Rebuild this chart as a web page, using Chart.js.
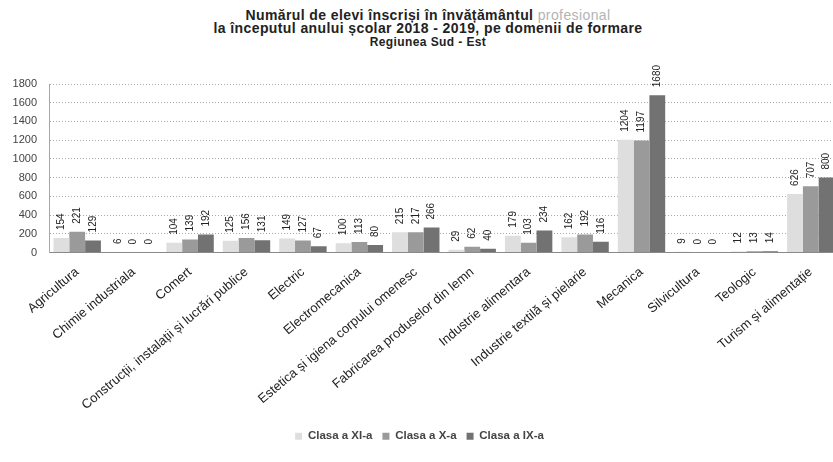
<!DOCTYPE html>
<html>
<head>
<meta charset="utf-8">
<script src="https://cdn.jsdelivr.net/npm/chart.js@4.4.1/dist/chart.umd.min.js"></script>
<style>
  html, body { margin: 0; padding: 0; background: #fff; overflow: hidden; width: 833px; height: 462px; }
  #title { position: absolute; left: 0; top: 9px; width: 856px; text-align: center; font-family: 'Liberation Sans', Arial, sans-serif; font-weight: bold; font-size: 14px; letter-spacing: 0.4px; line-height: 13px; color: #222; }
  #title .soft { color: #b4b4b4; font-weight: normal; }
  #title .small { font-size: 12px; }
  #wrap { position: absolute; left: 0; top: 50px; width: 850px; height: 412px; }
</style>
</head>
<body>
<div id="title">Numărul de elevi înscriși în învățământul <span class="soft">profesional</span><br>la începutul anului școlar 2018 - 2019, pe domenii de formare<br><span class="small">Regiunea Sud - Est</span></div>
<div id="wrap"><canvas id="c" width="850" height="412"></canvas></div>
<script>
// domenii de formare
const domenii = [
  'Agricultura', 'Chimie industriala', 'Comert', 'Construcții, instalații și lucrări publice',
  'Electric', 'Electromecanica', 'Estetica și igiena corpului omenesc', 'Fabricarea produselor din lemn',
  'Industrie alimentara', 'Industrie textilă și pielarie', 'Mecanica', 'Silvicultura', 'Teologic',
  'Turism și alimentație',
];
const clasaXI = [154, 6, 104, 125, 149, 100, 215, 29, 179, 162, 1204, 9, 12, 626];
const clasaX = [221, 0, 139, 156, 127, 113, 217, 62, 103, 192, 1197, 0, 13, 707];
const clasaIX = [129, 0, 192, 131, 67, 80, 266, 40, 234, 116, 1680, 0, 14, 800];
const yTicks = [0, 200, 400, 600, 800, 1000, 1200, 1400, 1600, 1800];

const FONT = "'Liberation Sans', Arial, sans-serif";
const C = { xi: '#dedede', x: '#9a9a9a', ix: '#727272', grid: '#a8a8a8', ink: '#333' };

// etichete verticale deasupra barelor
const valori = {
  id: 'valori',
  afterDatasetsDraw(chart) {
    const ctx = chart.ctx;
    ctx.save();
    ctx.font = '10px ' + FONT;
    ctx.fillStyle = '#222';
    ctx.textAlign = 'left'; ctx.textBaseline = 'middle';
    chart.data.datasets.forEach((ds, i) => {
      chart.getDatasetMeta(i).data.forEach((bar, j) => {
        ctx.save();
        ctx.translate(bar.x, bar.y - 8);
        ctx.rotate(-Math.PI / 2);
        ctx.fillText(String(ds.data[j]), 0, 0);
        ctx.restore();
      });
    });
    ctx.restore();
  },
};

Chart.defaults.font.family = FONT;
Chart.defaults.color = C.ink;

new Chart(document.getElementById('c'), {
  type: 'bar',
  data: {
    labels: domenii,
    datasets: [
      { label: 'Clasa a XI-a', data: clasaXI, backgroundColor: C.xi },
      { label: 'Clasa a X-a', data: clasaX, backgroundColor: C.x },
      { label: 'Clasa a IX-a', data: clasaIX, backgroundColor: C.ix },
    ],
  },
  options: {
    responsive: false, animation: false,
    datasets: { bar: { categoryPercentage: 0.84, barPercentage: 1.0 } },
    layout: { padding: { left: 0, right: 11, top: 34, bottom: 10 } },
    plugins: {
      legend: {
        position: 'bottom',
        labels: { boxWidth: 7, boxHeight: 7, padding: 10, font: { size: 11.5, weight: 'bold' }, color: '#444' },
      },
      tooltip: { enabled: false },
    },
    scales: {
      x: {
        grid: { display: false },
        border: { color: '#8a8a8a' },
        ticks: { autoSkip: false, minRotation: 40, maxRotation: 40, font: { size: 13 }, color: '#222', padding: 4 },
        afterFit: (s) => { s.height = 168; },
      },
      y: {
        min: 0, max: 1800,
        afterBuildTicks: (s) => { s.ticks = yTicks.map((v) => ({ value: v })); },
        grid: { color: C.grid, drawTicks: false },
        border: { dash: [1, 2], color: C.grid },
        ticks: { font: { size: 11 }, color: '#444', padding: 12, callback: (v) => String(v) },
        afterFit: (s) => { s.width = 49; },
      },
    },
  },
  plugins: [valori],
});
</script>
</body>
</html>
